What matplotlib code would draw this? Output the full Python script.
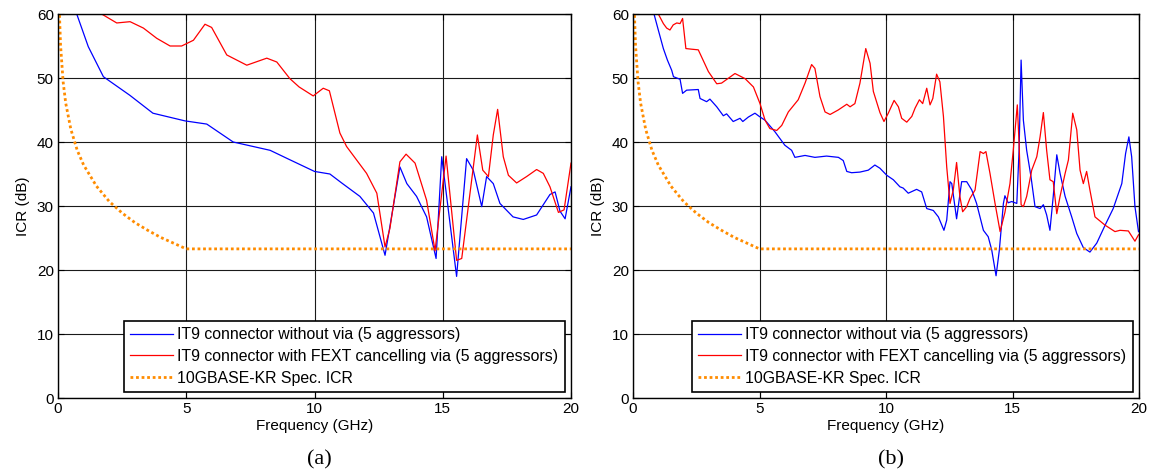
import matplotlib
matplotlib.use("Agg")
import matplotlib.pyplot as plt

plt.rcParams['font.family'] = ['Liberation Sans', 'DejaVu Sans']

# ---- (a) ----
a_blue_f = [0.73, 1.18, 1.77, 2.8, 3.7, 4.95, 5.8, 6.83, 8.27, 9.0, 10.0, 10.6, 11.06,
            11.77, 12.3, 12.75, 13.33, 13.6, 13.98, 14.37, 14.74, 14.96, 15.54, 15.93,
            16.19, 16.52, 16.71, 16.97, 17.23, 17.74, 18.14, 18.66, 19.18, 19.38, 19.57,
            19.77, 20.0]
a_blue_v = [60.0, 54.9, 50.2, 47.3, 44.5, 43.3, 42.8, 40.0, 38.7, 37.3, 35.4, 35.0, 33.6,
            31.5, 28.9, 22.3, 36.1, 33.5, 31.5, 28.3, 21.8, 37.7, 19.0, 37.4,
            35.6, 29.9, 34.6, 33.5, 30.4, 28.3, 27.9, 28.6, 31.8, 32.2, 29.2,
            28.0, 33.0]

a_red_f = [1.7, 2.29, 2.81, 3.33, 3.85, 4.37, 4.82, 5.28, 5.73, 5.99, 6.58, 7.36, 8.14,
           8.53, 9.04, 9.4, 9.95, 10.34, 10.58, 10.99, 11.25, 12.03, 12.43, 12.75, 12.94,
           13.33, 13.57, 13.92, 14.37, 14.7, 15.13, 15.54, 15.74, 16.35, 16.56, 16.78,
           16.97, 17.14, 17.36, 17.56, 17.88, 18.27, 18.66, 18.92, 19.18, 19.51, 19.73,
           20.0]
a_red_v = [60.0, 58.6, 58.8, 57.8, 56.2, 55.0, 55.0, 55.9, 58.4, 57.9, 53.6, 52.0, 53.1,
           52.5, 49.9, 48.6, 47.2, 48.4, 48.0, 41.4, 39.3, 35.1, 32.0, 23.6, 26.5,
           36.9, 38.1, 36.7, 30.9, 23.0, 37.8, 21.5, 21.8, 41.1, 35.6, 34.6,
           41.1, 45.1, 37.7, 34.8, 33.6, 34.6, 35.7, 35.1, 33.0, 29.0, 29.4,
           36.7]

# ---- (b) ----
b_blue_f = [0.83, 1.0, 1.2, 1.36, 1.53, 1.6, 1.86, 1.96, 2.12, 2.58, 2.65, 2.91, 3.04,
            3.31, 3.57, 3.7, 3.96, 4.23, 4.34, 4.56, 4.82, 4.99, 5.22, 5.61, 6.0, 6.27,
            6.4, 6.8, 7.19, 7.65, 8.12, 8.31, 8.45, 8.64, 8.97, 9.3, 9.56, 9.76, 10.03,
            10.29, 10.55, 10.68, 10.88, 11.21, 11.41, 11.61, 11.87, 12.07, 12.29, 12.4,
            12.53, 12.6, 12.79, 12.99, 13.19, 13.39, 13.58, 13.85, 14.04, 14.18, 14.35,
            14.48, 14.64, 14.7, 14.83, 14.97, 15.17, 15.26, 15.34, 15.43, 15.56, 15.73,
            15.89, 16.09, 16.22, 16.35, 16.48, 16.61, 16.75, 16.88, 17.08, 17.34, 17.54,
            17.8, 18.06, 18.33, 18.66, 18.98, 19.32, 19.47, 19.6, 19.71, 19.84, 19.98]
b_blue_v = [60.0, 57.5, 54.6, 52.8, 51.2, 50.2, 49.8, 47.6, 48.1, 48.2, 46.8, 46.3, 46.7,
            45.5, 44.1, 44.4, 43.2, 43.7, 43.2, 43.9, 44.5, 44.0, 43.4, 41.6, 39.5, 38.7,
            37.6, 37.9, 37.6, 37.8, 37.6, 37.1, 35.4, 35.2, 35.3, 35.6, 36.4, 35.9, 34.8,
            34.1, 33.0, 32.8, 32.0, 32.6, 32.2, 29.6, 29.3, 28.3, 26.2, 27.8,
            33.8, 33.5, 28.0, 33.8, 33.8, 32.5, 30.4, 26.2, 25.2, 23.1, 19.1,
            23.1, 30.4, 31.6, 30.5, 30.7, 30.4, 38.7, 52.8, 43.4, 38.7, 34.6,
            29.9, 29.6, 30.2, 28.6, 26.2, 31.5, 38.0, 35.1, 31.5, 28.3, 25.7,
            23.5, 22.8, 24.2, 27.0, 29.6, 33.5, 38.2, 40.8, 37.7, 29.9, 26.0]

b_red_f = [1.0, 1.2, 1.33, 1.46, 1.59, 1.73, 1.86, 1.96, 2.09, 2.32, 2.58, 2.71, 2.98,
           3.31, 3.5, 4.03, 4.43, 4.76, 5.02, 5.22, 5.41, 5.68, 5.88, 6.14, 6.53, 6.8,
           7.06, 7.19, 7.39, 7.59, 7.79, 8.11, 8.45, 8.58, 8.77, 8.97, 9.2, 9.37, 9.5,
           9.76, 9.92, 10.09, 10.32, 10.49, 10.62, 10.82, 11.02, 11.15, 11.32, 11.45,
           11.61, 11.74, 11.85, 12.0, 12.13, 12.27, 12.4, 12.53, 12.66, 12.79, 12.92,
           13.03, 13.19, 13.32, 13.52, 13.72, 13.85, 13.95, 14.11, 14.31, 14.51, 14.7,
           14.9, 15.03, 15.19, 15.26, 15.34, 15.43, 15.56, 15.76, 15.96, 16.09, 16.22,
           16.35, 16.48, 16.61, 16.75, 16.88, 17.08, 17.21, 17.38, 17.54, 17.67, 17.8,
           17.93, 18.06, 18.26, 18.66, 19.05, 19.25, 19.58, 19.84, 19.98]
b_red_v = [60.0, 58.5, 57.8, 57.5, 58.3, 58.6, 58.5, 59.3, 54.6, 54.5, 54.4, 53.3, 51.0,
           49.1, 49.2, 50.7, 49.9, 48.6, 46.0, 43.4, 42.1, 41.8, 42.6, 44.7, 46.6, 49.2,
           52.1, 51.5, 47.1, 44.7, 44.3, 45.0, 45.9, 45.5, 46.0, 49.2, 54.6, 52.3, 47.9,
           44.6, 43.2, 44.5, 46.5, 45.5, 43.7, 43.1, 44.0, 45.3, 46.6, 46.0,
           48.4, 45.8, 46.8, 50.6, 49.4, 44.0, 36.1, 30.4, 32.5, 36.8, 31.5,
           29.1, 29.9, 31.2, 32.5, 38.5, 38.2, 38.5, 35.1, 30.4, 26.0, 29.0,
           33.5, 38.7, 45.8, 39.8, 30.2, 29.9, 31.5, 35.6, 37.7, 40.8, 44.6,
           38.7, 34.1, 33.8, 28.8, 31.5, 35.1, 37.2, 44.5, 41.9, 35.6, 33.5,
           35.4, 32.5, 28.3, 27.0, 26.0, 26.2, 26.1, 24.5, 25.5]

# 10GBASE-KR inter-crosstalk ratio limit
spec_f = [0.05, 0.1, 0.2, 0.3, 0.5, 0.75, 1.0, 1.5, 2.0, 2.5, 3.0, 3.5, 4.0, 4.5, 5.0, 20.0]
spec_v = [60.7, 55.1, 49.4, 46.1, 42.0, 38.7, 36.4, 33.1, 30.7, 28.9, 27.4, 26.2, 25.1,
          24.2, 23.3, 23.3]

labels = ["IT9 connector without via (5 aggressors)",
          "IT9 connector with FEXT cancelling via (5 aggressors)",
          "10GBASE-KR Spec. ICR"]
x_ticks = [0, 5, 10, 15, 20]
y_ticks = [0, 10, 20, 30, 40, 50, 60]

fig = plt.figure(figsize=(11.51, 4.74), dpi=100)
ax_a = fig.add_axes([58 / 1151, 1 - 398 / 474, 513 / 1151, 384 / 474])
ax_b = fig.add_axes([633 / 1151, 1 - 398 / 474, 506 / 1151, 384 / 474])

FS = 11.0
LEG_FS = 11.4
for ax, bf, bv, rf, rv, cap in [(ax_a, a_blue_f, a_blue_v, a_red_f, a_red_v, "(a)"),
                                (ax_b, b_blue_f, b_blue_v, b_red_f, b_red_v, "(b)")]:
    ax.plot(bf, bv, color='#0000ff', lw=0.9, label=labels[0])
    ax.plot(rf, rv, color='#ff0000', lw=0.9, label=labels[1])
    ax.plot(spec_f, spec_v, color='#ff8c00', lw=2.0, linestyle=(0, (1, 1)),
            label=labels[2])
    ax.set_xlim(0, 20)
    ax.set_ylim(0, 60)
    ax.set_xticks(x_ticks)
    ax.set_yticks(y_ticks)
    ax.grid(True, color='#1a1a1a', lw=0.8)
    ax.set_axisbelow(True)
    ax.tick_params(direction='in', length=4, width=0.8, top=True, right=True,
                   labelsize=FS, pad=3)
    for sp in ax.spines.values():
        sp.set_linewidth(1.0)
        sp.set_color('black')
    ax.set_xlabel("Frequency (GHz)", fontsize=FS, labelpad=2)
    ax.set_ylabel("ICR (dB)", fontsize=FS, labelpad=5)
    leg = ax.legend(loc='lower right', bbox_to_anchor=(0.988, 0.016), fontsize=LEG_FS,
                    frameon=True, fancybox=False, edgecolor='black',
                    framealpha=1.0, handlelength=2.7, handletextpad=0.3,
                    labelspacing=0.42, borderpad=0.4, borderaxespad=0.0)
    leg.get_frame().set_linewidth(1.2)
    ax.text(0.51, -0.16, cap, transform=ax.transAxes, ha='center', va='center',
            fontsize=16, family=['Liberation Serif', 'DejaVu Serif'])

fig.savefig("out.png", dpi=100)
